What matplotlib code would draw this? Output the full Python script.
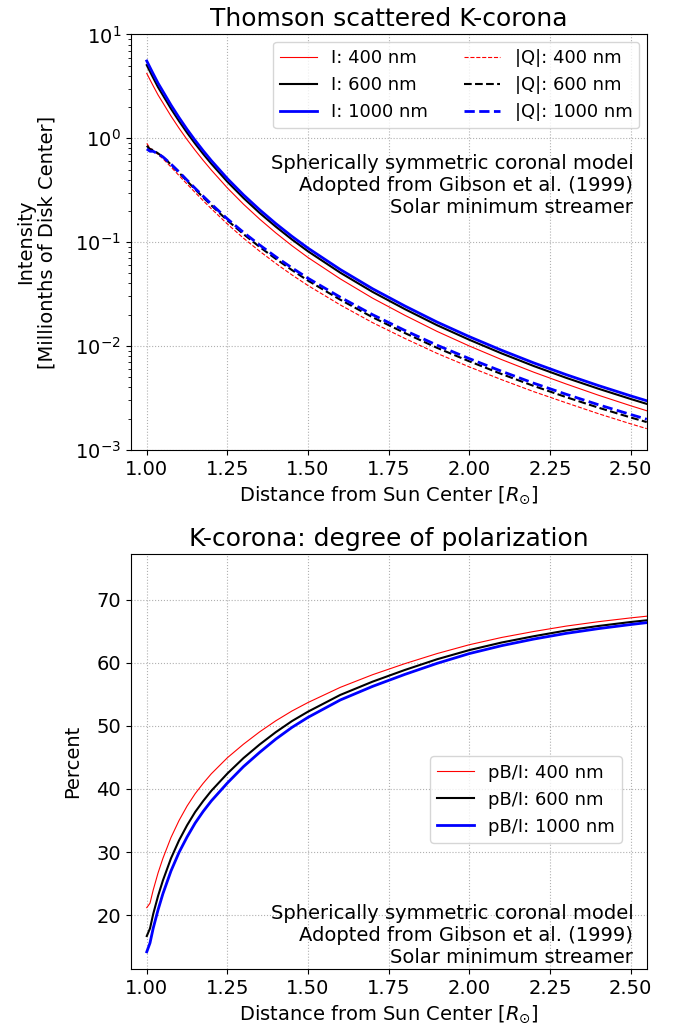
import numpy as np
import matplotlib
matplotlib.use("Agg")
from matplotlib import pyplot as plt

# distance from sun center (R_sun)
r = [1.0, 1.01, 1.02, 1.035, 1.05, 1.075, 1.1, 1.125, 1.15, 1.175, 1.2, 1.25, 1.3, 1.35,
     1.4, 1.45, 1.5, 1.6, 1.7, 1.8, 1.9, 2.0, 2.1, 2.2, 2.3, 2.4, 2.5, 2.55]

# total intensity I (millionths of disk center)
I_400 = [4.219, 3.668, 3.196, 2.615, 2.197, 1.640, 1.252, 0.972, 0.767, 0.613, 0.4955, 0.3325, 0.2317, 0.1667,
         0.1228, 0.0925, 0.0711, 0.0443, 0.0289, 0.01976, 0.01382, 0.0100, 0.0074, 0.00559, 0.00431, 0.00336, 0.00266, 0.00238]
I_600 = [5.07, 4.395, 3.819, 3.107, 2.600, 1.929, 1.466, 1.131, 0.888, 0.707, 0.570, 0.3816, 0.266, 0.191,
         0.141, 0.1062, 0.0816, 0.0508, 0.0332, 0.02267, 0.01586, 0.01148, 0.00849, 0.00641, 0.00494, 0.00388, 0.00309, 0.00277]
I_1000 = [5.559, 4.814, 4.178, 3.396, 2.835, 2.094, 1.585, 1.219, 0.955, 0.759, 0.611, 0.409, 0.285, 0.205,
          0.151, 0.1138, 0.0875, 0.0545, 0.0356, 0.0243, 0.0170, 0.0123, 0.0091, 0.00687, 0.0053, 0.00416, 0.00331, 0.00297]

# |Q| (polarized brightness)
Q_400 = [0.894, 0.803, 0.767, 0.698, 0.637, 0.530, 0.438, 0.3626, 0.301, 0.2507, 0.2101, 0.1495, 0.1091, 0.0818,
         0.0624, 0.0484, 0.0382, 0.02485, 0.01679, 0.01183, 0.00849, 0.00629, 0.00474, 0.00363, 0.00284, 0.00223, 0.00178, 0.0016]
Q_600 = [0.847, 0.787, 0.771, 0.716, 0.663, 0.559, 0.467, 0.387, 0.3228, 0.2694, 0.2263, 0.1620, 0.1194, 0.0899,
         0.0691, 0.0539, 0.0426, 0.0279, 0.01892, 0.01334, 0.0096, 0.00712, 0.00537, 0.00412, 0.00322, 0.00255, 0.00205, 0.00185]
Q_1000 = [0.789, 0.751, 0.750, 0.708, 0.663, 0.565, 0.475, 0.395, 0.330, 0.2767, 0.2328, 0.1675, 0.1241, 0.0939,
          0.0723, 0.0566, 0.0449, 0.0295, 0.02003, 0.01413, 0.01018, 0.00756, 0.00571, 0.00438, 0.00343, 0.00272, 0.00219, 0.00197]

# degree of polarization pB/I (percent)
P_400 = [21.2, 21.9, 24.0, 26.7, 29.0, 32.3, 35.0, 37.3, 39.25, 40.9, 42.4, 44.95, 47.1, 49.05,
         50.8, 52.35, 53.7, 56.1, 58.1, 59.85, 61.45, 62.85, 64.0, 64.95, 65.8, 66.5, 67.1, 67.37]
P_600 = [16.7, 17.9, 20.2, 23.05, 25.5, 29.0, 31.85, 34.25, 36.35, 38.1, 39.7, 42.45, 44.9, 47.05,
         49.0, 50.75, 52.25, 54.9, 57.0, 58.85, 60.55, 62.0, 63.2, 64.2, 65.1, 65.82, 66.45, 66.72]
P_1000 = [14.2, 15.6, 17.95, 20.85, 23.4, 27.0, 29.95, 32.4, 34.6, 36.45, 38.1, 40.95, 43.55, 45.8,
          47.9, 49.75, 51.35, 54.1, 56.25, 58.15, 59.9, 61.45, 62.7, 63.75, 64.65, 65.4, 66.05, 66.35]

info = "Spherically symmetric coronal model\nAdopted from Gibson et al. (1999)\nSolar minimum streamer"
xt = [1.0, 1.25, 1.5, 1.75, 2.0, 2.25, 2.5]

plt.rcParams['font.size'] = 14

fig = plt.figure(figsize=(6.84, 10.36), dpi=100)

# top panel: intensities
ax1 = fig.add_axes([0.191, 0.5658, 0.7545, 0.4009])
ax1.plot(r, I_400, color='red', lw=0.8, label='I: 400 nm')
ax1.plot(r, I_600, color='black', lw=1.5, label='I: 600 nm')
ax1.plot(r, I_1000, color='blue', lw=2.0, label='I: 1000 nm')
ax1.plot(r, Q_400, color='red', lw=0.8, ls='--', label='|Q|: 400 nm')
ax1.plot(r, Q_600, color='black', lw=1.5, ls='--', label='|Q|: 600 nm')
ax1.plot(r, Q_1000, color='blue', lw=2.0, ls='--', label='|Q|: 1000 nm')
ax1.set_yscale('log')
ax1.set_ylim(1e-3, 1e1)
ax1.set_xlim(0.95, 2.55)
ax1.set_xticks(xt)
ax1.grid(True, which='major', ls=':', color='#b0b0b0')
ax1.set_title('Thomson scattered K-corona', fontsize=18)
ax1.set_xlabel(r'Distance from Sun Center [$R_{\odot}$]')
ax1.set_ylabel('Intensity\n[Millionths of Disk Center]', labelpad=13)
ax1.legend(ncol=2, loc='upper right', fontsize=13, borderaxespad=0.4)
ax1.text(0.974, 0.713, info, transform=ax1.transAxes, ha='right', va='top',
         multialignment='right', fontsize=14)

# bottom panel: degree of polarization
ax2 = fig.add_axes([0.191, 0.0642, 0.7545, 0.4009])
ax2.plot(r, P_400, color='red', lw=0.8, label='pB/I: 400 nm')
ax2.plot(r, P_600, color='black', lw=1.5, label='pB/I: 600 nm')
ax2.plot(r, P_1000, color='blue', lw=2.0, label='pB/I: 1000 nm')
ax2.set_xlim(0.95, 2.55)
ax2.set_ylim(11.4, 77.2)
ax2.set_xticks(xt)
ax2.grid(True, ls=':', color='#b0b0b0')
ax2.set_title('K-corona: degree of polarization', fontsize=18)
ax2.set_xlabel(r'Distance from Sun Center [$R_{\odot}$]')
ax2.set_ylabel('Percent', labelpad=10)
ax2.legend(loc='lower right', bbox_to_anchor=(0.952, 0.305), fontsize=13, borderaxespad=0)
ax2.text(0.974, 0.157, info, transform=ax2.transAxes, ha='right', va='top',
         multialignment='right', fontsize=14)

fig.savefig('out.png', dpi=100)
